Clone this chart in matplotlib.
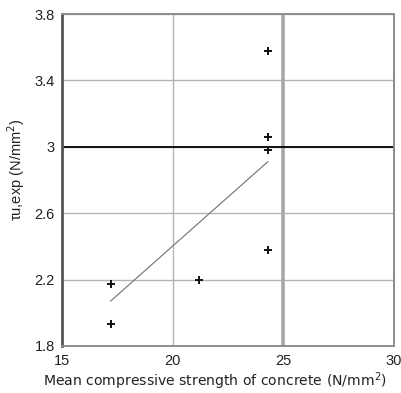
import matplotlib
matplotlib.use("Agg")
import matplotlib.pyplot as plt

# Measured shear strength vs. mean concrete strength
fc_mean = [17.2, 17.2, 21.2, 24.3, 24.3, 24.3, 24.3]
tau_exp = [2.17, 1.93, 2.20, 2.38, 2.98, 3.06, 3.58]

# Linear trend through the data
trend_x = [17.2, 24.3]
trend_y = [2.07, 2.91]

x_ticks = [15, 20, 25, 30]
y_ticks = [1.8, 2.2, 2.6, 3.0, 3.4, 3.8]
y_tick_labels = ["1.8", "2.2", "2.6", "3", "3.4", "3.8"]

fig = plt.figure(figsize=(4.02, 3.93), dpi=100)
ax = fig.add_axes([0.154, 0.12, 0.826, 0.844])

ax.set_xlim(15, 30)
ax.set_ylim(1.8, 3.8)
ax.set_xticks(x_ticks)
ax.set_yticks(y_ticks)
ax.set_yticklabels(y_tick_labels)
ax.tick_params(length=0, labelsize=10.5, labelcolor="#222222")
ax.tick_params(axis="x", pad=6)
ax.tick_params(axis="y", pad=5)
for lbl in ax.get_xticklabels() + ax.get_yticklabels():
    lbl.set_family("Liberation Sans")

ax.grid(True, color="#b4b4b4", linewidth=1.0)
ax.set_axisbelow(True)

# reference lines
ax.axvline(25, color="#a8a8a8", linewidth=2.6, zorder=1.5)
ax.axhline(3.0, color="black", linewidth=1.3, zorder=1.6)

ax.plot(trend_x, trend_y, color="#707070", linewidth=0.8, zorder=2)
ax.plot(fc_mean, tau_exp, linestyle="none", marker="+", markersize=6,
        markeredgewidth=1.4, color="#111111", zorder=3)

ax.spines["left"].set_color("#555555")
ax.spines["left"].set_linewidth(2.0)
for side in ["top", "right", "bottom"]:
    ax.spines[side].set_color("#8c8c8c")
    ax.spines[side].set_linewidth(1.4)

# axis titles
fig.text(0.535, 0.03, "Mean compressive strength of concrete (N/mm$^2$)",
         fontsize=10.1, color="#222222", ha="center", va="center")
fig.text(0.012, 0.567, "τu,exp (N/mm$^2$)", fontsize=10.5, color="#222222",
         family="Liberation Sans", rotation=90, ha="left", va="center")

fig.savefig("out.png", dpi=100)
